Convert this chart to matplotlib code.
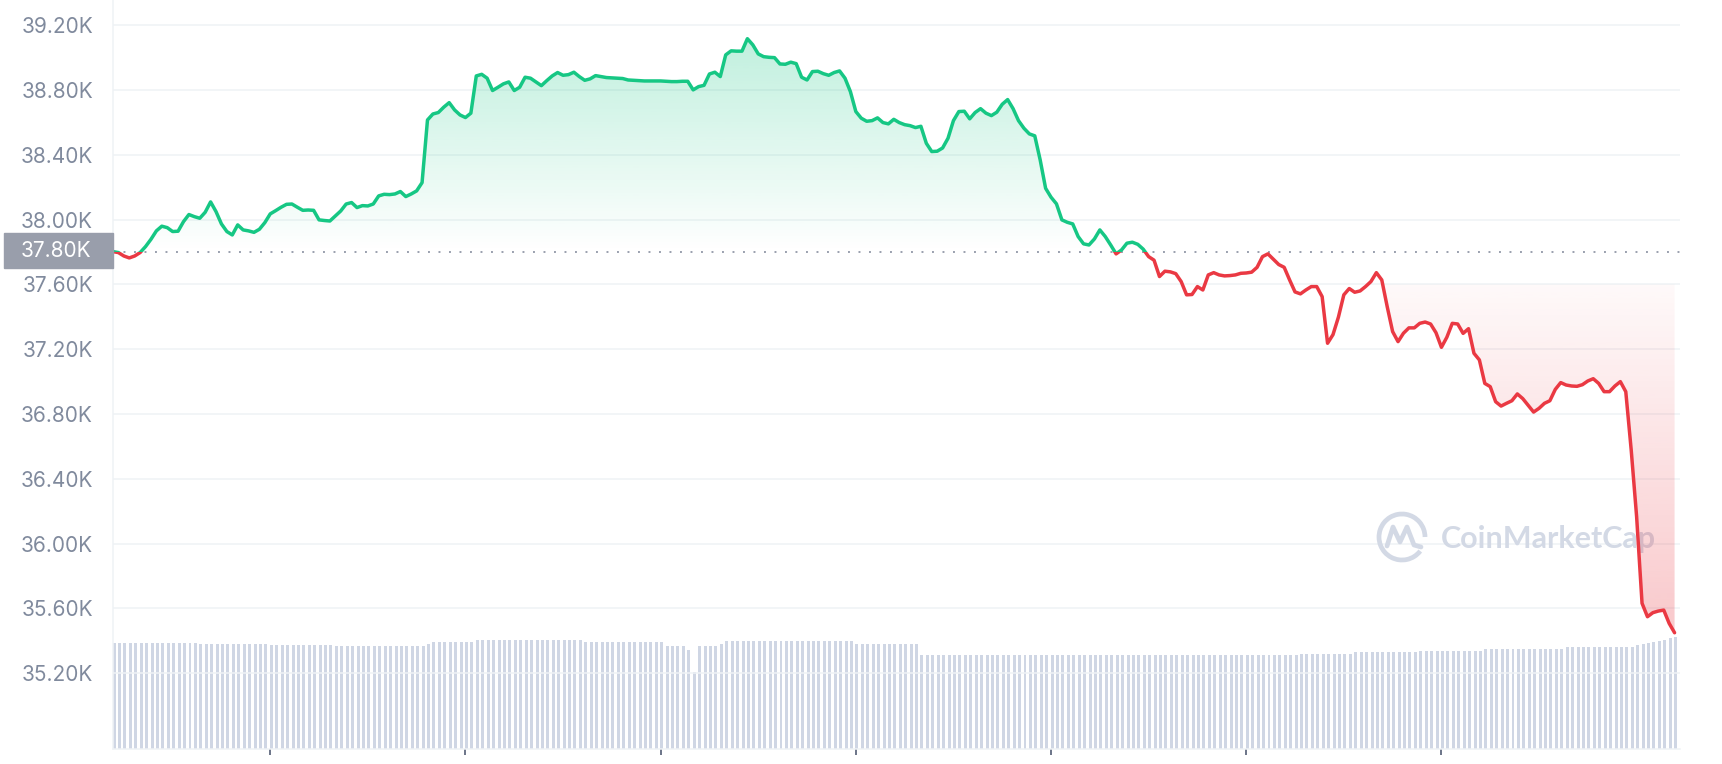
import matplotlib
matplotlib.use("Agg")
import matplotlib.pyplot as plt
import numpy as np
from matplotlib.patches import Rectangle, Arc
from matplotlib.path import Path
from matplotlib.lines import Line2D
from matplotlib.colors import to_rgb

# BTC price, one sample every 5 minutes (USD)
prices = [
    37803, 37797, 37776, 37764, 37776, 37797, 37834, 37879, 37931, 37960, 37951, 37927,
    37929, 37988, 38032, 38019, 38009, 38046, 38110, 38050, 37974, 37927, 37906, 37968,
    37937, 37931, 37922, 37941, 37982, 38036, 38056, 38077, 38095, 38097, 38077, 38058,
    38060, 38058, 37999, 37995, 37992, 38023, 38054, 38097, 38106, 38075, 38087, 38085,
    38097, 38147, 38157, 38155, 38159, 38174, 38143, 38159, 38178, 38229, 38616, 38653,
    38662, 38695, 38723, 38678, 38647, 38631, 38658, 38888, 38898, 38874, 38798, 38818,
    38839, 38851, 38798, 38818, 38880, 38874, 38851, 38828, 38859, 38888, 38909, 38892,
    38896, 38911, 38884, 38861, 38870, 38890, 38884, 38878, 38876, 38874, 38872, 38863,
    38861, 38859, 38857, 38857, 38857, 38857, 38855, 38853, 38853, 38855, 38855, 38802,
    38822, 38830, 38900, 38911, 38884, 39018, 39043, 39041, 39041, 39118, 39080, 39024,
    39007, 39003, 39001, 38962, 38960, 38973, 38964, 38880, 38863, 38915, 38917, 38902,
    38892, 38909, 38919, 38874, 38791, 38668, 38627, 38608, 38612, 38629, 38600, 38592,
    38620, 38600, 38587, 38581, 38569, 38577, 38472, 38421, 38423, 38443, 38503, 38612,
    38668, 38670, 38623, 38662, 38686, 38658, 38643, 38664, 38713, 38742, 38686, 38612,
    38565, 38530, 38518, 38369, 38194, 38139, 38098, 37999, 37984, 37974, 37896, 37851,
    37844, 37881, 37937, 37896, 37844, 37789, 37813, 37855, 37861, 37848, 37818, 37772,
    37750, 37649, 37682, 37678, 37667, 37618, 37536, 37538, 37587, 37566, 37659, 37673,
    37659, 37653, 37655, 37659, 37669, 37671, 37676, 37706, 37772, 37789, 37756, 37723,
    37706, 37628, 37554, 37542, 37566, 37587, 37587, 37525, 37237, 37290, 37398, 37536,
    37575, 37552, 37560, 37587, 37618, 37673, 37628, 37463, 37309, 37247, 37299, 37332,
    37332, 37360, 37368, 37356, 37302, 37212, 37274, 37360, 37356, 37298, 37327, 37175,
    37134, 36989, 36969, 36876, 36849, 36866, 36882, 36924, 36895, 36854, 36812, 36835,
    36866, 36882, 36952, 36994, 36979, 36973, 36971, 36981, 37004, 37018, 36989, 36938,
    36938, 36973, 37000, 36938, 36578, 36166, 35631, 35548, 35573, 35583, 35589, 35507,
    35449,
]

# 24h volume bars under the line (billion USD), one per price sample
volumes = [
    21.26, 21.26, 21.26, 21.26, 21.26, 21.26, 21.26, 21.26, 21.26, 21.26, 21.26, 21.26, 21.26, 21.26, 21.26, 21.26,
    21.0, 21.0, 21.0, 21.0, 21.0, 21.0, 21.0, 21.0, 21.0, 21.0, 21.0, 21.0, 21.0,
    20.8, 20.8, 20.8, 20.8, 20.8, 20.8, 20.8, 20.8, 20.8, 20.8, 20.8, 20.8,
    20.6, 20.6, 20.6, 20.6, 20.6, 20.6, 20.6, 20.6, 20.6, 20.6, 20.6, 20.6, 20.6, 20.6, 20.6, 20.6, 20.6,
    21.1,
    21.46, 21.46, 21.46, 21.46, 21.46, 21.46, 21.46, 21.46,
    21.8, 21.8, 21.8, 21.8, 21.8, 21.8, 21.8, 21.8, 21.8, 21.8, 21.8, 21.8, 21.8, 21.8, 21.8, 21.8, 21.8, 21.8, 21.8, 21.8,
    21.4, 21.4, 21.4, 21.4, 21.4, 21.4, 21.4, 21.4, 21.4, 21.4, 21.4, 21.4, 21.4, 21.4, 21.4,
    20.54, 20.54, 20.54, 20.54, 19.8, 15.4, 20.54, 20.54, 20.54, 20.54, 20.94,
    21.66, 21.66, 21.66, 21.66, 21.66, 21.66, 21.66, 21.66, 21.66, 21.66, 21.66, 21.66, 21.66,
    21.54, 21.54, 21.54, 21.54, 21.54, 21.54, 21.54, 21.54, 21.54, 21.54, 21.54,
    20.94, 20.94, 20.94, 20.94, 20.94, 20.94, 20.94, 20.94, 20.94, 20.94, 20.94, 20.94,
    18.74, 18.74, 18.74, 18.74, 18.74, 18.74, 18.74, 18.74, 18.74, 18.74, 18.74, 18.74, 18.74, 18.74,
    18.74, 18.74, 18.74, 18.74, 18.74, 18.74, 18.74, 18.74, 18.74, 18.74, 18.74, 18.74, 18.74,
    18.8, 18.8, 18.8, 18.8, 18.8, 18.8, 18.8, 18.8, 18.8, 18.8, 18.8, 18.8, 18.8,
    18.8, 18.8, 18.8, 18.8, 18.8, 18.8, 18.8, 18.8, 18.8, 18.8, 18.8, 18.8,
    18.9, 18.9, 18.9, 18.9, 18.9, 18.9, 18.9, 18.9, 18.9, 18.9, 18.9, 18.9, 18.9, 18.9, 18.9, 18.9, 18.9, 18.9,
    19.0, 19.0, 19.0, 19.0, 19.0, 19.0, 19.0, 19.0, 19.0, 19.0,
    19.34, 19.34, 19.34, 19.34, 19.34, 19.34, 19.34, 19.34, 19.34, 19.34, 19.34, 19.34,
    19.6, 19.6, 19.6, 19.6, 19.6, 19.6, 19.6, 19.6, 19.6, 19.6, 19.6, 19.6,
    19.94, 19.94, 19.94, 19.94, 19.94, 19.94, 19.94, 19.94, 19.94, 19.94, 19.94, 19.94, 19.94, 19.94, 19.94,
    20.34, 20.34, 20.34, 20.34, 20.34, 20.34, 20.34, 20.34, 20.34, 20.34, 20.34, 20.34,
    20.5, 20.8, 21.0, 21.2, 21.46, 21.7, 21.9, 22.2, 22.46,
]

open_price = 37800
open_label = '37.80K'
y_ticks = [35200, 35600, 36000, 36400, 36800, 37200, 37600, 38000, 38400, 38800, 39200]
y_labels = ['35.20K', '35.60K', '36.00K', '36.40K', '36.80K', '37.20K',
            '37.60K', '38.00K', '38.40K', '38.80K', '39.20K']
x_ticks = [29, 65, 101, 137, 173, 209, 245]   # every 3 hours

GREEN = '#16c784'
RED = '#ea3943'
GRID = '#eff2f5'
LABEL = '#808a9d'
BAR = '#cfd6e4'

plt.rcParams['font.family'] = ['Inter', 'DejaVu Sans']

W, H = 1722, 764
fig = plt.figure(figsize=(W / 100, H / 100), dpi=100)
fig.patch.set_facecolor('white')


def fx(px):
    return px / W


def fy(py):
    return 1 - py / H


rect = [fx(113), 15 / H, (1680 - 113) / W, 749 / H]
ax_vol = fig.add_axes(rect, zorder=0)
ax = fig.add_axes(rect, zorder=1)
ax.patch.set_visible(False)

x = np.arange(len(prices))
p = np.array(prices, dtype=float)
XMAX = 289

# volume bars
ax_vol.bar(x + 0.2, volumes, width=0.55, color=BAR, linewidth=0)
ax_vol.set_xlim(0, XMAX)
ax_vol.set_ylim(0, 749 / 5)
ax_vol.axis('off')

# gradient fill above the open price (green)
up = ax.fill_between(x, p, open_price, where=p >= open_price, interpolate=True,
                     facecolor='none', edgecolor='none')
g = np.linspace(0, 1, 256)
rgba = np.zeros((256, 1, 4))
rgba[..., :3] = to_rgb(GREEN)
rgba[:, 0, 3] = 0.27 * g
im = ax.imshow(rgba, extent=(0, XMAX, open_price, 39120), origin='lower',
               aspect='auto', zorder=2, interpolation='bilinear')
im.set_clip_path(Path.make_compound_path(*up.get_paths()), ax.transData)

# gradient fill of the late sell-off (red)
red_from = 233
red_top = 37600
xr = x[red_from:]
pr = p[red_from:]
dn = ax.fill_between(xr, pr, red_top, where=pr <= red_top, interpolate=True,
                     facecolor='none', edgecolor='none')
rgba_r = np.zeros((256, 1, 4))
rgba_r[..., :3] = to_rgb(RED)
rgba_r[:, 0, 3] = 0.28 - 0.25 * g
im_r = ax.imshow(rgba_r, extent=(0, XMAX, 35400, red_top), origin='lower',
                 aspect='auto', zorder=2, interpolation='bilinear')
im_r.set_clip_path(Path.make_compound_path(*dn.get_paths()), ax.transData)

# price line: green above the open, red below
for color, lo, hi in [(GREEN, open_price, 45000), (RED, 30000, open_price)]:
    ln, = ax.plot(x, p, color=color, lw=2.5, solid_joinstyle='round',
                  solid_capstyle='round', zorder=4)
    ln.set_clip_path(Rectangle((-10, lo), XMAX + 20, hi - lo, transform=ax.transData))

# dotted open-price line
ax.axhline(open_price, color='#9aa0ae', lw=1.4, linestyle=(0, (1, 4.4)), zorder=3)

# watermark
wm = '#d3d9e5'
ax.text(fx(1441), fy(539), 'CoinMarketCap', transform=fig.transFigure,
        fontfamily=['Lato', 'DejaVu Sans'], fontweight='bold', fontsize=22,
        color=wm, ha='left', va='center', zorder=1.5)
ax.add_patch(Arc((fx(1402), fy(537)), 46 / W, 46 / H, theta1=0, theta2=300,
                 transform=fig.transFigure, color=wm, lw=3.4, zorder=1.5))
mx = [-15, -9, -2, 5, 12, 19]
my = [9, -10, 5, -10, 8, 10]
ax.add_line(Line2D([fx(1402 + a) for a in mx], [fy(537 + b) for b in my],
                   transform=fig.transFigure, color=wm, lw=3.4,
                   solid_joinstyle='round', solid_capstyle='round', zorder=1.5))

ax.set_xlim(0, XMAX)
ax.set_ylim(34731, 39357)
ax.set_yticks(y_ticks, y_labels)
ax.set_xticks(x_ticks, [''] * len(x_ticks))
ax.tick_params(axis='y', length=0, pad=14.4, labelsize=15, labelcolor=LABEL)
ax.tick_params(axis='x', length=4.3, width=1.4, color='#6b7488', direction='out')
ax.grid(axis='y', color=GRID, lw=1.1)
ax.set_axisbelow(True)
for s in ['top', 'right']:
    ax.spines[s].set_visible(False)
for s in ['left', 'bottom']:
    ax.spines[s].set_color(GRID)
    ax.spines[s].set_linewidth(1.1)

# open price tag on the y axis
fig.add_artist(Rectangle((fx(4), fy(268)), 109 / W, 35 / H, transform=fig.transFigure,
                         color='#999eab', zorder=5))
fig.text(fx(91), fy(251), open_label, color='white', fontsize=15,
         ha='right', va='center', zorder=6)

fig.savefig('out.png', dpi=100, facecolor='white')
